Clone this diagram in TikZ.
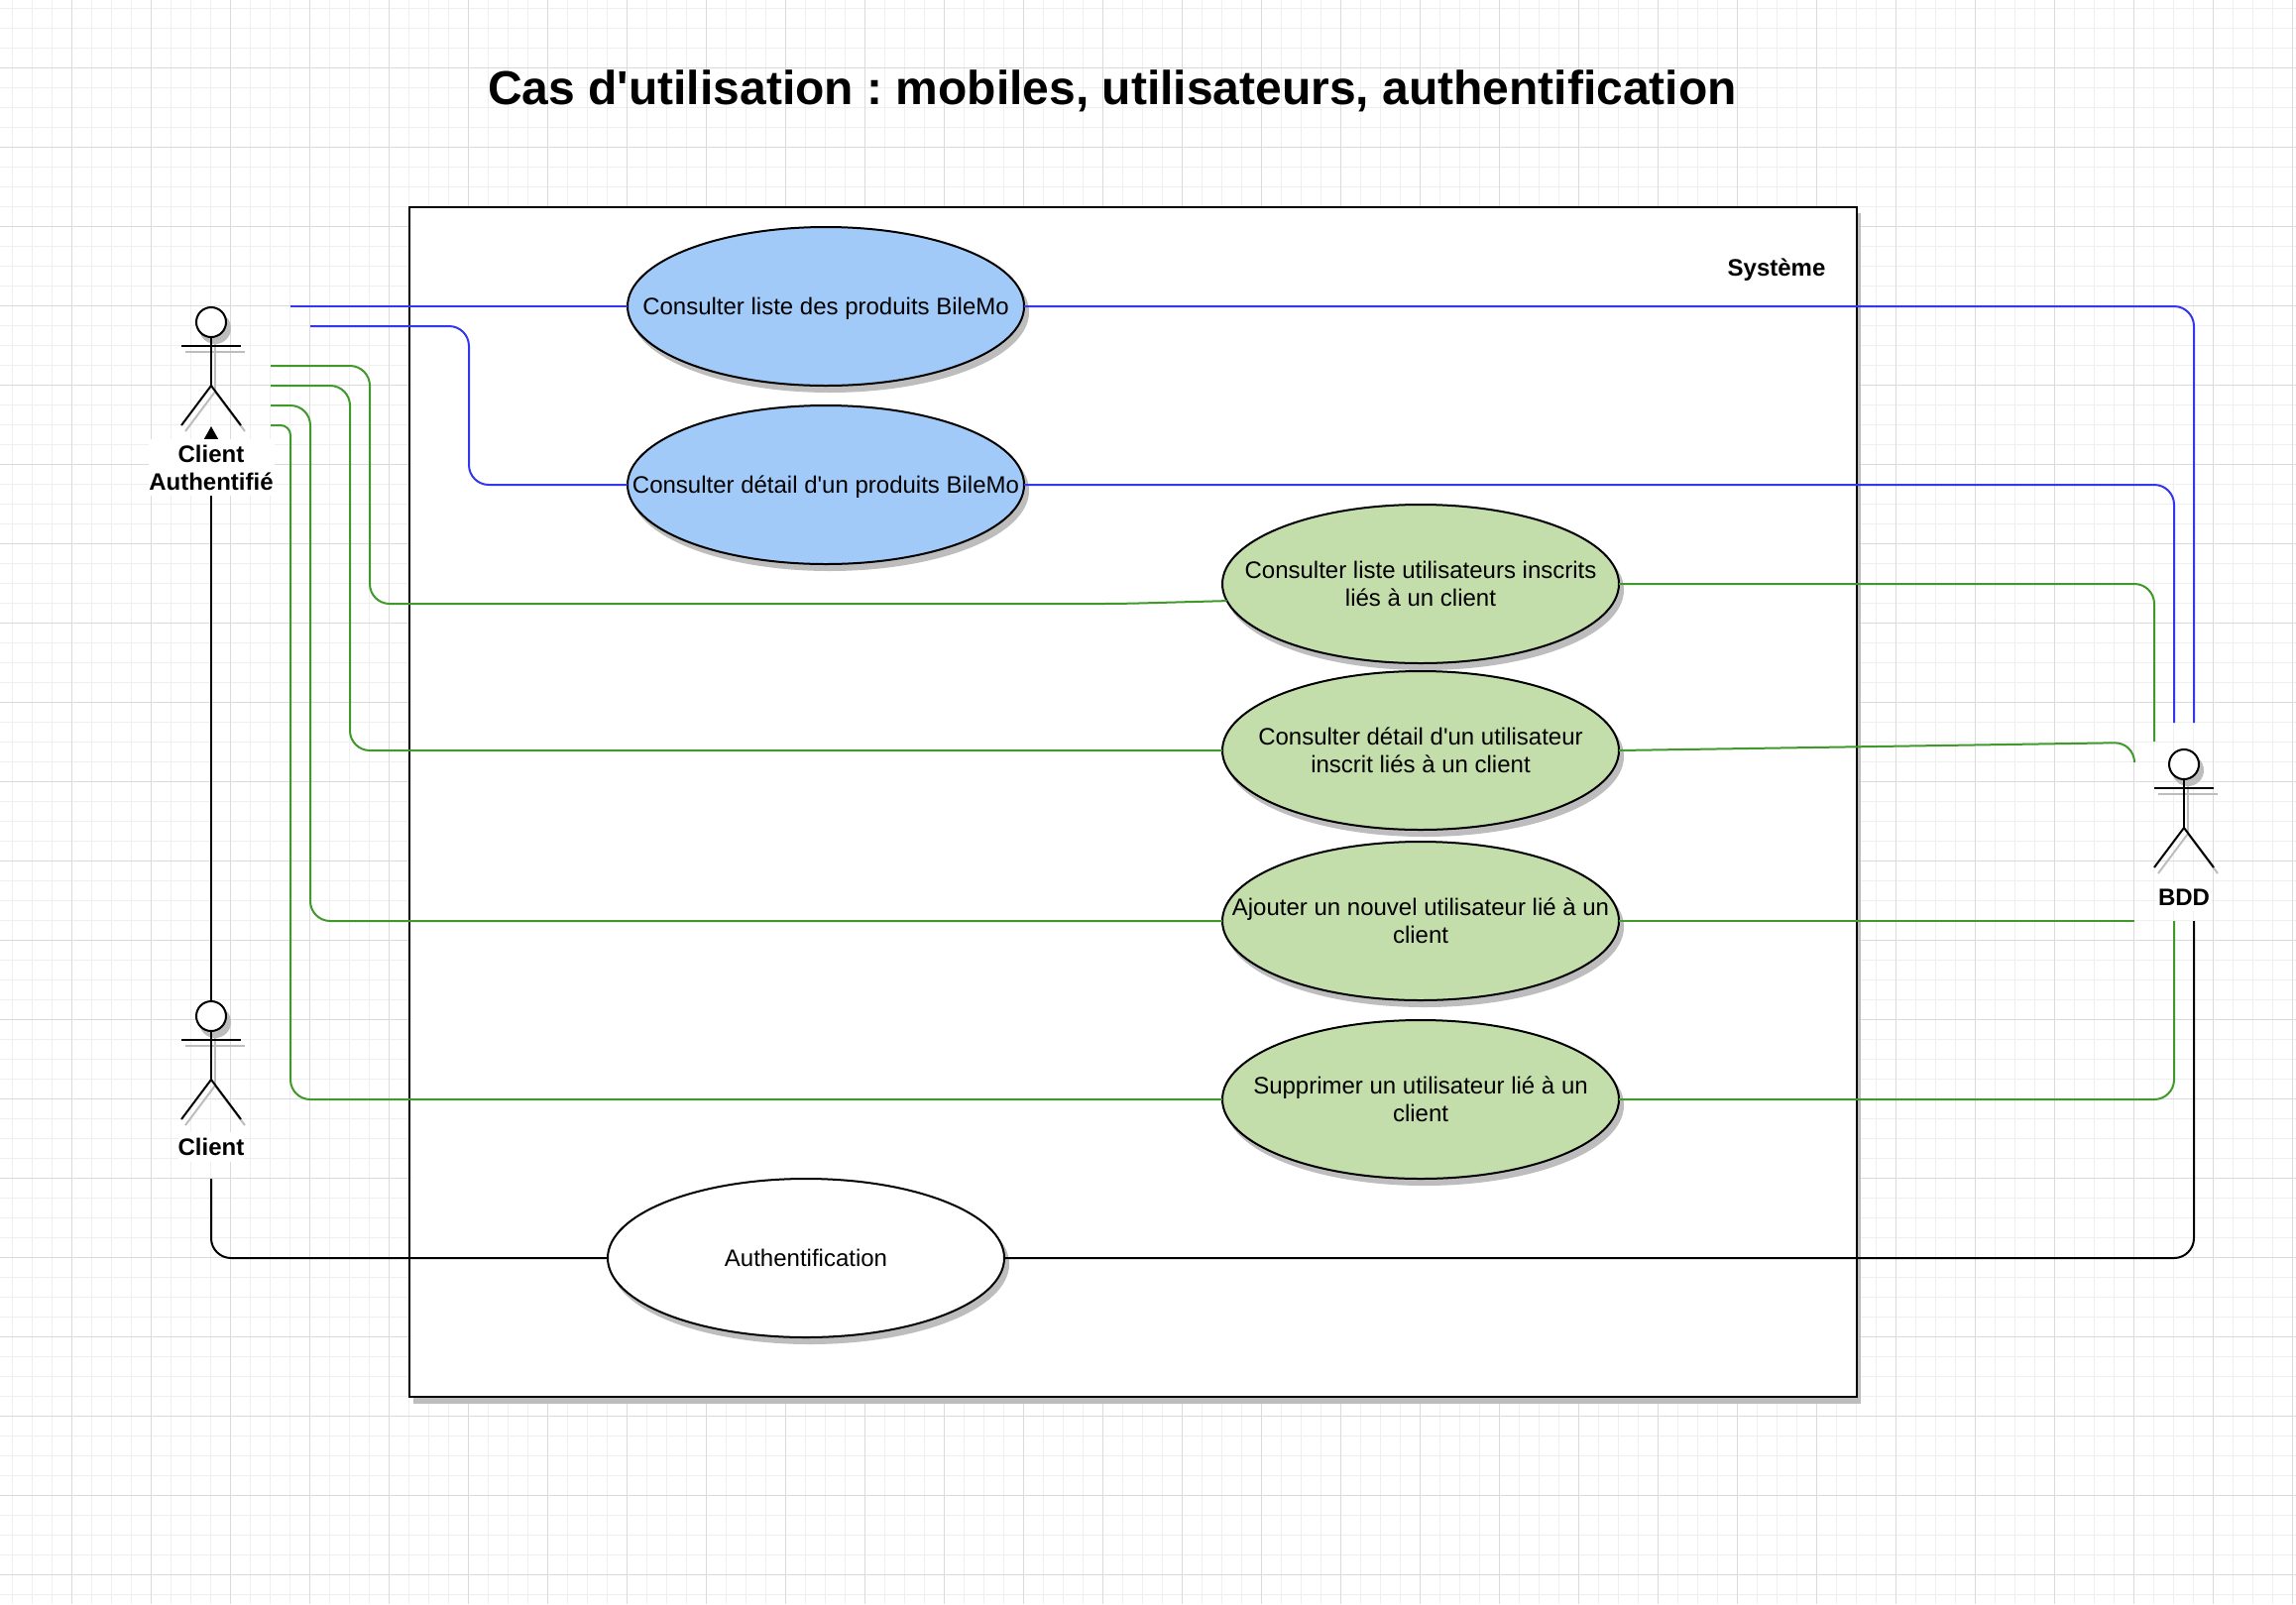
\documentclass[tikz,border=0pt]{standalone}
\usepackage{fontspec}
\usepackage{xcolor}
\setmainfont{Liberation Sans}[Ligatures=TeXOff]
\frenchspacing
\usetikzlibrary{arrows.meta,shapes.geometric,shadows}

\definecolor{gridminor}{HTML}{EFEFEF}
\definecolor{gridmajor}{HTML}{DADADA}
\definecolor{shadegray}{HTML}{BDBDBD}
\definecolor{ucblue}{HTML}{A1CAF8}
\definecolor{ucgreen}{HTML}{C3DDAB}
\definecolor{linkblue}{HTML}{3338F0}
\definecolor{linkgreen}{HTML}{3F9A2B}

\newcommand{\uctext}[1]{\makebox[0pt]{\raisebox{-9pt}[0pt][0pt]{\begin{tabular}{@{}c@{}}#1\end{tabular}}}}

\tikzset{
	softshade/.style={drop shadow={shadow xshift=4pt,shadow yshift=-6pt,fill=shadegray,draw=shadegray,line width=2pt,opacity=1}},
	ucase/.style={ellipse,draw=black,line width=2pt,inner sep=0pt,outer sep=0pt,minimum width=400pt,minimum height=160pt,font=\fontsize{24}{28}\selectfont,softshade},
	actorhead/.style={circle,draw=black,fill=white,line width=2pt,inner sep=0pt,outer sep=0pt,minimum size=30pt,softshade},
	actorlabel/.style={fill=white,inner sep=0pt,align=center,font=\fontsize{24}{28}\selectfont\bfseries},
	bluelink/.style={draw=linkblue,line width=2pt,rounded corners=20pt},
	greenlink/.style={draw=linkgreen,line width=2pt,rounded corners=20pt},
	blacklink/.style={draw=black,line width=2pt,rounded corners=20pt}
}

\begin{document}
\begin{tikzpicture}[x=1pt,y=-1pt]
		\useasboundingbox (0,0) rectangle (2316,1618);
		\fill[white] (0,0) rectangle (2316,1618);

		% grid paper
		\begin{scope}[shift={(12,8)}]
			\draw[step=20pt,gridminor,line width=1pt] (-12,-8) grid (2304,1610);
		\end{scope}
		\begin{scope}[shift={(72.5,68.5)}]
			\draw[step=80pt,gridmajor,line width=1pt] (-72.5,-68.5) grid (2243.5,1549.5);
		\end{scope}

		\node[font=\fontsize{48}{56}\selectfont\bfseries,inner sep=0pt] (title) at (1122,92) {Cas d'utilisation : mobiles, utilisateurs, authentification};

		% system box
		\fill[shadegray] (417,215) rectangle (1877,1416);
		\filldraw[fill=white,draw=black,line width=2pt] (413,209) rectangle (1873,1409);
		\node[font=\fontsize{24}{28}\selectfont\bfseries,inner sep=0pt] (sys) at (1792,272) {Système};

		% use cases
		\node[ucase,fill=ucblue] (ucliste) at (833,309) {\uctext{Consulter liste des produits BileMo}};
		\node[ucase,fill=ucblue] (ucdetail) at (833,489) {\uctext{Consulter détail d'un produits BileMo}};
		\node[ucase,fill=ucgreen] (ucusers) at (1433,589) {\uctext{Consulter liste utilisateurs inscrits\\liés à un client}};
		\node[ucase,fill=ucgreen] (ucuser) at (1433,757) {\uctext{Consulter détail d'un utilisateur\\inscrit liés à un client}};
		\node[ucase,fill=ucgreen] (ucadd) at (1433,929) {\uctext{Ajouter un nouvel utilisateur lié à un\\client}};
		\node[ucase,fill=ucgreen] (ucdel) at (1433,1109) {\uctext{Supprimer un utilisateur lié à un\\client}};
		\node[ucase,fill=white] (ucauth) at (813,1269) {\uctext{Authentification}};

		% actors
		\foreach \nm/\ax/\ay in {auth/213/325,client/213/1025,bdd/2203/771}{
			\begin{scope}[shift={(4,6)},shadegray,line width=2pt]
				\draw (\ax,\ay+15) -- (\ax,\ay+64);
				\draw (\ax-30,\ay+24) -- (\ax+30,\ay+24);
				\draw (\ax-30,\ay+104) -- (\ax,\ay+64) -- (\ax+30,\ay+104);
			\end{scope}
			\node[actorhead] (head\nm) at (\ax,\ay) {};
			\draw[line width=2pt] (\ax,\ay+15) -- (\ax,\ay+64);
			\draw[line width=2pt] (\ax-30,\ay+24) -- (\ax+30,\ay+24);
			\draw[line width=2pt] (\ax-30,\ay+104) -- (\ax,\ay+64) -- (\ax+30,\ay+104);
		}

		% free ends of the connectors
		\coordinate (tipauth) at (213,430);
		\coordinate (ablue1) at (293,309);
		\coordinate (ablue2) at (313,329);
		\coordinate (agreen1) at (273,369);
		\coordinate (agreen2) at (273,389);
		\coordinate (agreen3) at (273,409);
		\coordinate (agreen4) at (273,429);
		\coordinate (cblack) at (213,1189);
		\coordinate (bblue1) at (2213,729);
		\coordinate (bblue2) at (2193,729);
		\coordinate (bgreen1) at (2173,748);
		\coordinate (bgreen2) at (2153,769);
		\coordinate (bgreen3) at (2153,929);
		\coordinate (bgreen4) at (2193,929);
		\coordinate (bblack) at (2213,929);

		% connectors
		\draw[line width=2pt,-{Triangle[length=14pt,width=15pt]}] (headclient.north) -- (tipauth);
		\draw[bluelink] (ablue1) -- (ucliste.west);
		\draw[bluelink] (ucliste.east) -| (bblue1);
		\draw[bluelink] (ablue2) -- (473,329) -- (473,489) -- (ucdetail.west);
		\draw[bluelink] (ucdetail.east) -| (bblue2);
		\draw[greenlink] (agreen1) -- (373,369) -- (373,609) -- (1130,609) -- (ucusers.185.3);
		\draw[greenlink] (ucusers.east) -| (bgreen1);
		\draw[greenlink] (agreen2) -- (353,389) -- (353,757) -- (ucuser.west);
		\draw[greenlink] (ucuser.east) -- (2153,749) -- (bgreen2);
		\draw[greenlink] (agreen3) -- (313,409) -- (313,929) -- (ucadd.west);
		\draw[greenlink] (ucadd.east) -- (bgreen3);
		\draw[greenlink,rounded corners=10pt] (agreen4) -- (293,429) [rounded corners=20pt] -- (293,1109) -- (ucdel.west);
		\draw[greenlink] (ucdel.east) -| (bgreen4);
		\draw[blacklink] (cblack) |- (ucauth.west);
		\draw[blacklink] (ucauth.east) -| (bblack);

		% actor names
		\node[actorlabel,minimum width=127pt,minimum height=57pt] (labauth) at (213,471.5) {Client\\Authentifié};
		\node[actorlabel,minimum width=66pt,minimum height=30pt] (labclient) at (213,1157) {Client};
		\node[actorlabel,minimum width=56pt,minimum height=28pt] (labbdd) at (2203,905) {BDD};
\end{tikzpicture}
\end{document}
